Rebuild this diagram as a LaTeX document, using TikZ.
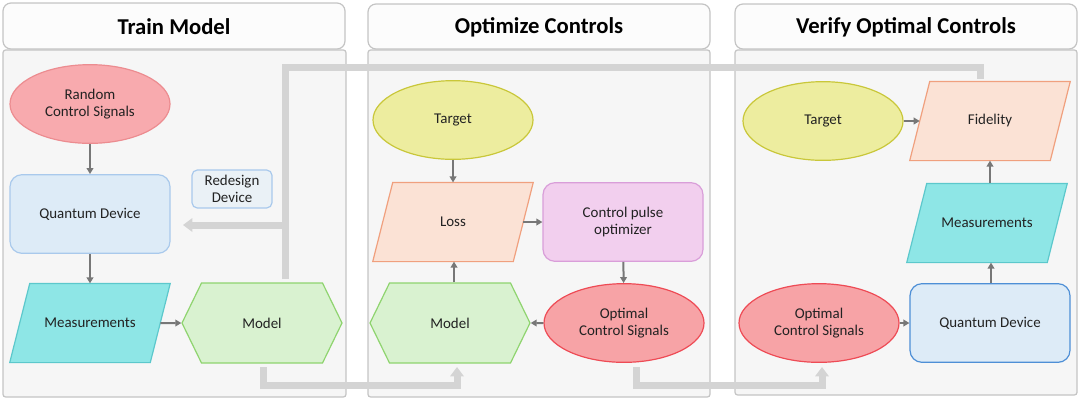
\documentclass[tikz,border=0pt]{standalone}
\usepackage{fontspec}
\setmainfont{Carlito}
\usetikzlibrary{shapes.geometric,shapes.symbols,arrows.meta}
\pgfdeclarelayer{bg}
\pgfdeclarelayer{mid}
\pgfsetlayers{bg,mid,main}
\definecolor{panelfill}{HTML}{F6F6F6}
\definecolor{panelline}{HTML}{C4C4C4}
\definecolor{titlefill}{HTML}{FCFCFC}
\definecolor{redA}{HTML}{F8AAAE}
\definecolor{redAl}{HTML}{EC8C90}
\definecolor{redB}{HTML}{F7A3A6}
\definecolor{redBl}{HTML}{EE4B55}
\definecolor{blueF}{HTML}{DDEBF7}
\definecolor{blueL}{HTML}{A9C9EC}
\definecolor{blueD}{HTML}{4E8FD6}
\definecolor{cyanF}{HTML}{8EE6E6}
\definecolor{cyanL}{HTML}{5CC8CC}
\definecolor{greenF}{HTML}{D9F2D0}
\definecolor{greenL}{HTML}{8FD46F}
\definecolor{yelF}{HTML}{EDED9F}
\definecolor{yelL}{HTML}{C9C73A}
\definecolor{peachF}{HTML}{FBE2D5}
\definecolor{peachL}{HTML}{F0A07E}
\definecolor{pinkF}{HTML}{F2CFEE}
\definecolor{pinkL}{HTML}{D99ED9}
\definecolor{arrowgray}{HTML}{777777}
\definecolor{thickgray}{HTML}{D4D4D4}
\definecolor{txt}{HTML}{222222}
\newcommand\paraback[3]{%
  \begin{pgfonlayer}{mid}
    \filldraw[fill=#2, draw=#3, line width=0.9pt, line join=miter]
      ([xshift=15pt]#1.north west) -- (#1.north east) -- ([xshift=-15pt]#1.south east)
      -- (#1.south west) -- cycle;
  \end{pgfonlayer}}
\begin{document}
\begin{tikzpicture}[x=0.75pt,y=-0.75pt,
  every node/.style={font=\fontsize{11.2}{13}\selectfont, align=center, text=txt, inner sep=0pt},
  titlebox/.style={draw=panelline, fill=titlefill, rounded corners=6pt, line width=0.9pt},
  bodybox/.style={draw=panelline, fill=panelfill, rounded corners=2pt, line width=0.9pt},
  titletext/.style={font=\fontsize{17}{20}\selectfont\bfseries, text=black},
  ell/.style={ellipse, minimum width=120pt, minimum height=59pt, line width=0.9pt},
  rbox/.style={rectangle, rounded corners=9pt, minimum width=120pt, minimum height=59pt, line width=0.9pt},
  para/.style={rectangle, minimum width=120pt, minimum height=59pt},
  hexa/.style={signal, signal to=east and west, signal pointer angle=128,
     minimum width=120pt, minimum height=60pt, line width=0.9pt, fill=greenF, draw=greenL},
  flow/.style={draw=arrowgray, line width=1.5pt, -{Triangle[width=5pt,length=4.5pt]}},
  big/.style={draw=thickgray, line width=5.25pt},
  bigarrow/.style={big, -{Triangle[width=10pt,length=7pt]}}
]
\useasboundingbox (0,0) rectangle (1080,401);
% panels
\begin{pgfonlayer}{bg}
\draw[bodybox] (3,50) rectangle (346,397);
\draw[titlebox] (3,3) rectangle (345,49);
\draw[bodybox] (368,50) rectangle (710,397);
\draw[titlebox] (368,4) rectangle (710,49);
\draw[bodybox] (735,50) rectangle (1077,395);
\draw[titlebox] (735,4) rectangle (1077,49);
\end{pgfonlayer}
\node[titletext] (t1) at (174,27) {Train Model};
\node[titletext] (t2) at (539,27) {Optimize Controls};
\node[titletext] (t3) at (906,27) {Verify Optimal Controls};
% panel 1
\node[ell, fill=redA, draw=redAl] (rcs1) at (90,104) {Random\\Control Signals};
\node[rbox, fill=blueF, draw=blueL] (qd1) at (90,214) {Quantum Device};
\node[rectangle, rounded corners=4pt, fill=blueF!50!panelfill, draw=blueL, line width=0.9pt,
      minimum width=60pt, minimum height=28.5pt] (rd) at (232,189) {Redesign\\Device};
\node[para] (ms1) at (90,323) {Measurements};
\paraback{ms1}{cyanF}{cyanL}
\node[hexa] (md1) at (262,323) {Model};
% panel 2
\node[ell, fill=yelF, draw=yelL] (tg2) at (453,120) {Target};
\node[para] (ls2) at (453,222) {Loss};
\paraback{ls2}{peachF}{peachL}
\node[rbox, fill=pinkF, draw=pinkL] (cpo) at (623,222) {Control pulse\\optimizer};
\node[hexa] (md2) at (450,323) {Model};
\node[ell, fill=redB, draw=redBl] (ocs2) at (624,323) {Optimal\\Control Signals};
% panel 3
\node[ell, fill=yelF, draw=yelL] (tg3) at (823,121) {Target};
\node[para] (fd3) at (990,121) {Fidelity};
\paraback{fd3}{peachF}{peachL}
\node[para] (ms3) at (987,223) {Measurements};
\paraback{ms3}{cyanF}{cyanL}
\node[rbox, fill=blueF, draw=blueD] (qd3) at (990,323) {Quantum Device};
\node[ell, fill=redB, draw=redBl] (ocs3) at (819,323) {Optimal\\Control Signals};
% small arrows
\draw[flow] (rcs1) -- (qd1);
\draw[flow] (qd1) -- (ms1);
\draw[flow] ([xshift=-7.5pt]ms1.east) -- (md1);
\draw[flow] (tg2) -- (ls2);
\draw[flow] ([xshift=-7.5pt]ls2.east) -- (cpo);
\draw[flow] (cpo) -- (ocs2);
\draw[flow] (ocs2) -- (md2);
\draw[flow] (md2.north) ++(4,0) coordinate (m2n) -- (m2n |- ls2.south);
\draw[flow] (tg3) -- ([xshift=7.5pt]fd3.west);
\draw[flow] (ms3.north) ++(3,0) coordinate (m3n) -- (m3n |- fd3.south);
\draw[flow] (qd3.north) ++(1,0) coordinate (q3n) -- (q3n |- ms3.south);
\draw[flow] (ocs3) -- (qd3);
% thick connectors
\coordinate (a0) at (285,279);
\coordinate (a1) at (285,67);
\coordinate (a2) at (980,67);
\coordinate (a3) at (980,79);
\coordinate (br) at (285,225);
\coordinate (br2) at (183,225);
\draw[big, line join=miter] (a0) -- (a1) -- (a2) -- (a3);
\draw[bigarrow] (br) -- (br2);
\coordinate (b0) at (263,367);
\coordinate (b1) at (263,385);
\coordinate (b2) at (457,385);
\coordinate (b3) at (457,367);
\draw[bigarrow] (b0) -- (b1) -- (b2) -- (b3);
\coordinate (c0) at (636,367);
\coordinate (c1) at (636,385);
\coordinate (c2) at (822,385);
\coordinate (c3) at (822,367);
\draw[bigarrow] (c0) -- (c1) -- (c2) -- (c3);
\end{tikzpicture}
\end{document}
